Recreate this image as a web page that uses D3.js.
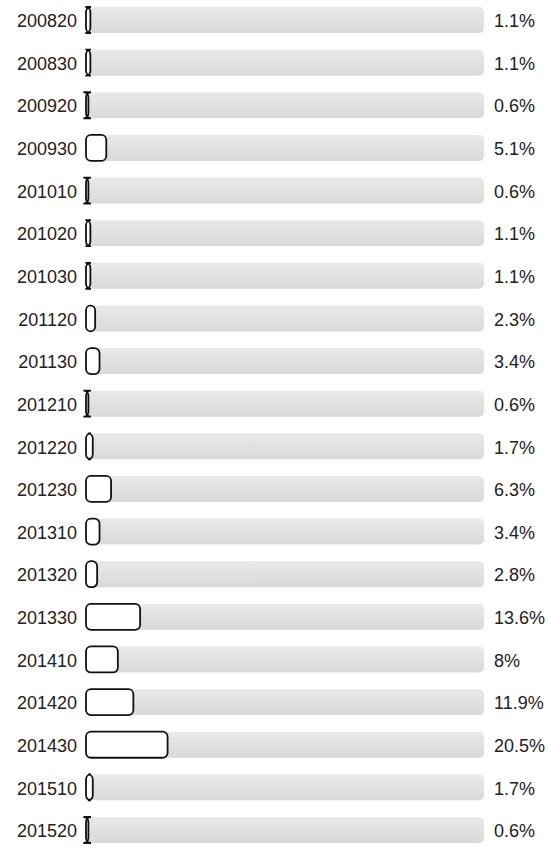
<!DOCTYPE html>
<html>
<head>
<meta charset="utf-8">
<script src="https://cdn.jsdelivr.net/npm/d3@7"></script>
<style>
  html, body { margin: 0; padding: 0; background: #fff; }
  svg { display: block; font-family: "Liberation Sans", Arial, sans-serif; }
</style>
</head>
<body>
<div id="chart"></div>
<script>
// Periods (year + term) and share of total, in percent
const periods = ["200820", "200830", "200920", "200930", "201010", "201020", "201030",
    "201120", "201130", "201210", "201220", "201230", "201310", "201320", "201330",
    "201410", "201420", "201430", "201510", "201520"];
const shares = [1.1, 1.1, 0.6, 5.1, 0.6, 1.1, 1.1, 2.3, 3.4, 0.6, 1.7, 6.3, 3.4, 2.8,
    13.6, 8, 11.9, 20.5, 1.7, 0.6];
const shareLabels = ["1.1%", "1.1%", "0.6%", "5.1%", "0.6%", "1.1%", "1.1%", "2.3%", "3.4%",
    "0.6%", "1.7%", "6.3%", "3.4%", "2.8%", "13.6%", "8%", "11.9%", "20.5%", "1.7%", "0.6%"];

const data = periods.map((p, i) => ({ period: p, value: shares[i], label: shareLabels[i] }));

const width = 551, height = 846;
const barLeft = 86, barRight = 484;
const radius = 5;

const svg = d3.select("#chart")
    .append("svg")
    .attr("width", width)
    .attr("height", height);

// soft vertical gradient for the track
const defs = svg.append("defs");
const grad = defs.append("linearGradient")
    .attr("id", "track-grad")
    .attr("x1", "0%").attr("x2", "0%")
    .attr("y1", "0%").attr("y2", "100%");
grad.append("stop").attr("offset", "0%").attr("stop-color", "#e9e9e9");
grad.append("stop").attr("offset", "100%").attr("stop-color", "#d9d9d9");

const y = d3.scaleBand()
    .domain(periods)
    .range([-1.3, 851.3])
    .paddingInner(0.39)
    .paddingOuter(0.195);

const x = d3.scaleLinear()
    .domain([0, 100])
    .range([barLeft, barRight]);

// rounded bar path with a fixed corner radius, even when the bar is
// narrower than two radii (gives the little "I" caps on tiny values)
function roundedBar(x0, y0, w, h, r) {
    return `M${x0 + r},${y0}` +
        `H${x0 + w - r}` +
        `A${r},${r} 0 0 1 ${x0 + w},${y0 + r}` +
        `V${y0 + h - r}` +
        `A${r},${r} 0 0 1 ${x0 + w - r},${y0 + h}` +
        `H${x0 + r}` +
        `A${r},${r} 0 0 1 ${x0},${y0 + h - r}` +
        `V${y0 + r}` +
        `A${r},${r} 0 0 1 ${x0 + r},${y0}Z`;
}

const rows = svg.selectAll(".row")
    .data(data)
    .enter()
    .append("g")
    .attr("class", "row")
    .attr("transform", d => `translate(0,${y(d.period)})`);

// background track
rows.append("rect")
    .attr("x", x(0) + 1)
    .attr("y", 0)
    .attr("width", x(100) - x(0) - 1)
    .attr("height", y.bandwidth())
    .attr("rx", radius)
    .attr("fill", "url(#track-grad)");

// value bar
rows.append("path")
    .attr("d", d => roundedBar(x(0), 0, x(d.value) - x(0), y.bandwidth(), radius))
    .attr("fill", "#fff")
    .attr("stroke", "#111")
    .attr("stroke-width", 1.8);

// period labels
rows.append("text")
    .attr("x", 77)
    .attr("y", y.bandwidth() / 2)
    .attr("dy", "0.4em")
    .attr("text-anchor", "end")
    .attr("fill", "#222")
    .style("font-size", "18px")
    .text(d => d.period);

// value labels
rows.append("text")
    .attr("x", 494)
    .attr("y", y.bandwidth() / 2)
    .attr("dy", "0.4em")
    .attr("fill", "#222")
    .style("font-size", "18px")
    .text(d => d.label);
</script>
</body>
</html>
